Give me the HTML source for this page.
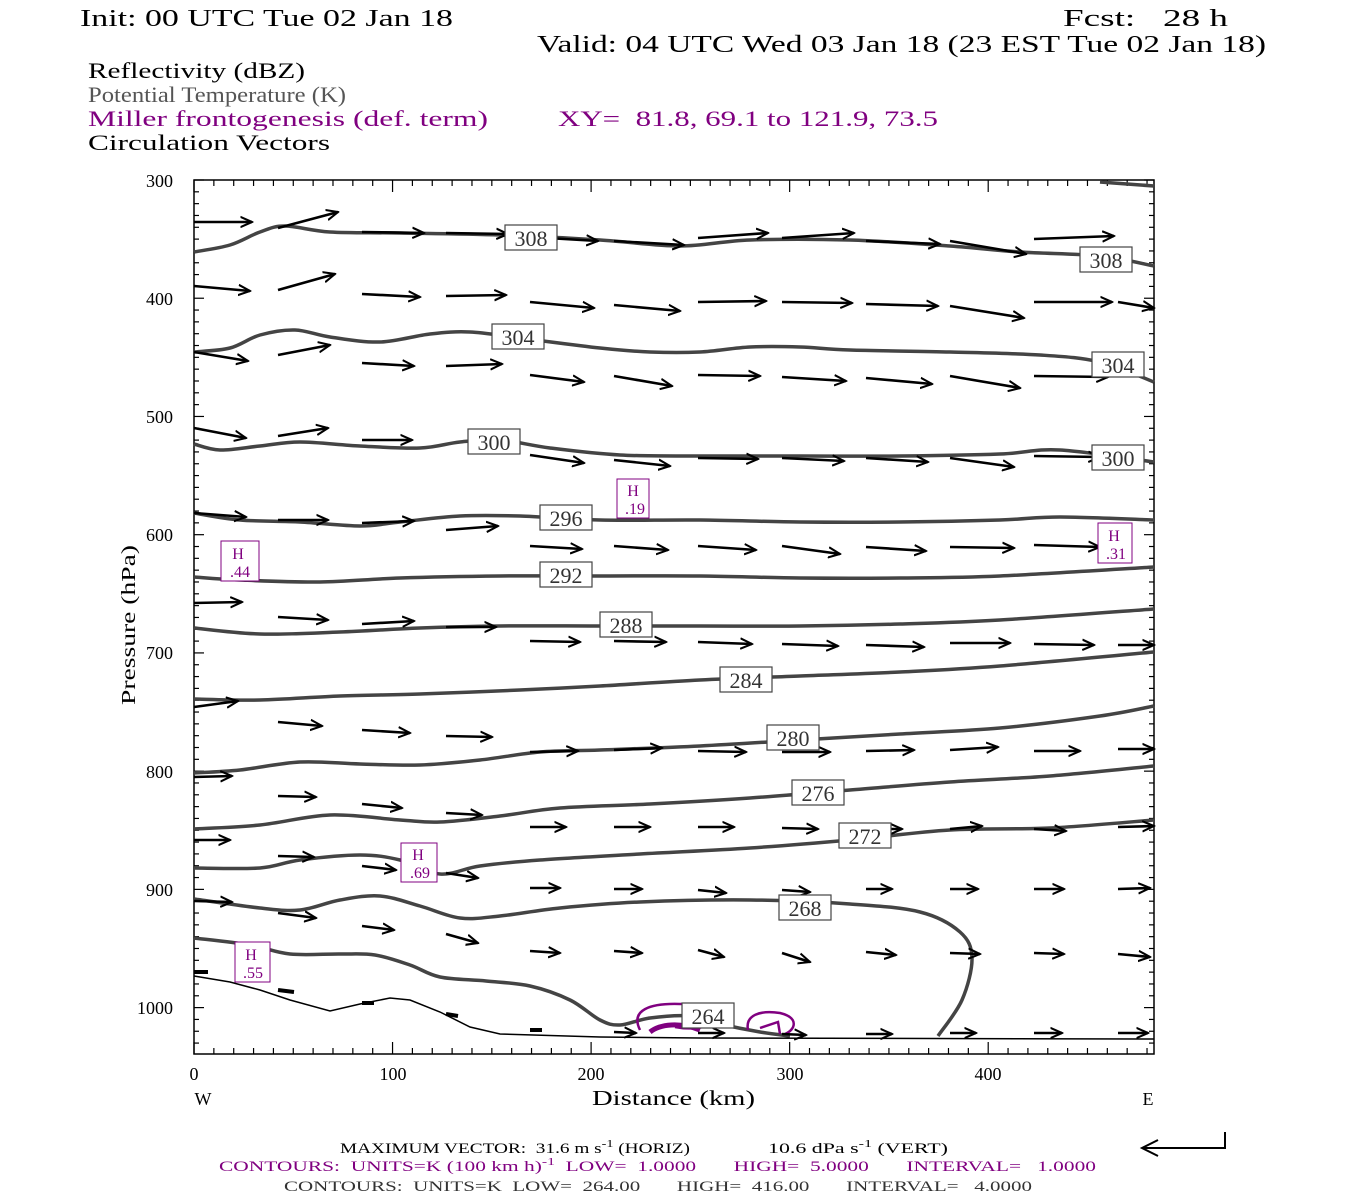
<!DOCTYPE html>
<html><head><meta charset="utf-8"><style>
html,body{margin:0;padding:0;background:#fff;width:1350px;height:1200px;overflow:hidden}
svg{display:block}
text{white-space:pre}
.s{font-family:"Liberation Serif",serif}
</style></head><body>
<svg id="g" width="1350" height="1200" viewBox="0 0 1350 1200" xmlns="http://www.w3.org/2000/svg" xml:space="preserve">
<defs>
<marker id="ah" viewBox="0 0 10 10" refX="9" refY="5" markerWidth="13" markerHeight="13" markerUnits="userSpaceOnUse" orient="auto">
<path d="M0,1 L9,5 L0,9" fill="none" stroke="#000" stroke-width="1.6"/>
</marker>
</defs>
<g class="s" font-size="24">
<text x="80" y="26" textLength="373" lengthAdjust="spacingAndGlyphs">Init: 00 UTC Tue 02 Jan 18</text>
<text x="1063" y="26" textLength="165" lengthAdjust="spacingAndGlyphs">Fcst:   28 h</text>
<text x="537" y="52" textLength="729" lengthAdjust="spacingAndGlyphs">Valid: 04 UTC Wed 03 Jan 18 (23 EST Tue 02 Jan 18)</text>
</g>
<g class="s" font-size="22">
<text x="88" y="78" textLength="217" lengthAdjust="spacingAndGlyphs">Reflectivity (dBZ)</text>
<text x="88" y="102" fill="#555" textLength="258" lengthAdjust="spacingAndGlyphs">Potential Temperature (K)</text>
<text x="88" y="126" fill="#800080" textLength="400" lengthAdjust="spacingAndGlyphs">Miller frontogenesis (def. term)</text>
<text x="558" y="126" fill="#800080" textLength="380" lengthAdjust="spacingAndGlyphs">XY=  81.8, 69.1 to 121.9, 73.5</text>
<text x="88" y="150" textLength="242" lengthAdjust="spacingAndGlyphs">Circulation Vectors</text>
</g>
<g class="s" font-size="18" text-anchor="end">
<text x="173" y="187">300</text><text x="173" y="305">400</text><text x="173" y="423">500</text>
<text x="173" y="541">600</text><text x="173" y="659">700</text><text x="173" y="778">800</text>
<text x="173" y="896">900</text><text x="173" y="1014">1000</text>
</g>
<text class="s" font-size="20" transform="translate(135,705) rotate(-90)" textLength="160" lengthAdjust="spacingAndGlyphs">Pressure (hPa)</text>
<g class="s" font-size="18" text-anchor="middle">
<text x="194" y="1080">0</text><text x="393" y="1080">100</text><text x="591" y="1080">200</text>
<text x="790" y="1080">300</text><text x="988" y="1080">400</text>
<text x="203" y="1105">W</text><text x="1148" y="1105">E</text>
</g>
<text class="s" font-size="21" x="592" y="1105" textLength="163" lengthAdjust="spacingAndGlyphs">Distance (km)</text>
<g class="s" font-size="15">
<text x="340" y="1153" textLength="350" lengthAdjust="spacingAndGlyphs">MAXIMUM VECTOR:  31.6 m s<tspan dy="-6" font-size="11">-1</tspan><tspan dy="6"> (HORIZ)</tspan></text>
<text x="768" y="1153" textLength="180" lengthAdjust="spacingAndGlyphs">10.6 dPa s<tspan dy="-6" font-size="11">-1</tspan><tspan dy="6"> (VERT)</tspan></text>
<text x="219" y="1171" fill="#800080" textLength="877" lengthAdjust="spacingAndGlyphs">CONTOURS:  UNITS=K (100 km h)<tspan dy="-6" font-size="11">-1</tspan><tspan dy="6">  LOW=  1.0000       HIGH=  5.0000       INTERVAL=   1.0000</tspan></text>
<text x="284" y="1191" fill="#333" textLength="748" lengthAdjust="spacingAndGlyphs">CONTOURS:  UNITS=K  LOW=  264.00       HIGH=  416.00       INTERVAL=   4.0000</text>
</g>
<path d="M1225,1132 L1225,1148 L1142,1148 M1158,1140 L1142,1148 L1158,1156" fill="none" stroke="#000" stroke-width="2"/>
<rect x="194" y="180" width="960" height="874" fill="none" stroke="#000" stroke-width="1.5"/>
<g id="ticks" stroke="#000" stroke-width="1.2"></g>
<g id="cont" fill="none" stroke="#444" stroke-width="3.5" stroke-linejoin="round"></g>
<g fill="none" stroke="#800080" stroke-width="2.5">
<path d="M640,1030 C630,1010 650,1003 680,1004 C700,1003 720,1006 715,1020 C712,1028 690,1030 675,1027"/>
<path d="M650,1032 C660,1024 680,1022 700,1030" stroke-width="5"/>
<path d="M748,1030 C745,1015 760,1010 780,1013 C800,1018 795,1030 785,1034 M760,1028 L778,1022 L780,1034"/>
</g>
<path d="M194,976 L230,982 L260,990 L290,1000 L330,1011 L360,1004 L390,998 L410,1000 L440,1012 L470,1027 L500,1034 L600,1037 L700,1038 L1154,1039" fill="none" stroke="#000" stroke-width="1.5"/>
<g id="arr" stroke="#000" stroke-width="2.6" fill="none"></g>
<g id="lab" class="s" font-size="22" text-anchor="middle"></g>
<g class="s" font-size="16" fill="#800080" text-anchor="middle">
<rect x="617" y="479" width="32" height="39" fill="#fff" stroke="#800080"/><text x="633" y="496">H</text><text x="635" y="514">.19</text>
<rect x="1098" y="523" width="34" height="40" fill="#fff" stroke="#800080"/><text x="1114" y="541">H</text><text x="1116" y="559">.31</text>
<rect x="221" y="541" width="38" height="40" fill="#fff" stroke="#800080"/><text x="238" y="559">H</text><text x="240" y="577">.44</text>
<rect x="401" y="843" width="36" height="39" fill="#fff" stroke="#800080"/><text x="418" y="860">H</text><text x="420" y="878">.69</text>
<rect x="235" y="942" width="35" height="40" fill="#fff" stroke="#800080"/><text x="251" y="960">H</text><text x="253" y="978">.55</text>
</g>
</svg>
<script>
var NS="http://www.w3.org/2000/svg";
function el(p,t,a){var e=document.createElementNS(NS,t);for(var k in a)e.setAttribute(k,a[k]);document.getElementById(p).appendChild(e);return e;}
for(var p=300;p<=1030;p+=10){var y=180+(p-300)*1.1823;var L=(p%100==0)?10:5;
el("ticks","line",{x1:194,y1:y,x2:194+L,y2:y});el("ticks","line",{x1:1154,y1:y,x2:1154-L,y2:y});}
for(var d=0;d<=483;d+=10){var x=194+d*1.9855;var L=(d%100==0)?12:6;
el("ticks","line",{x1:x,y1:1054,x2:x,y2:1054-L});el("ticks","line",{x1:x,y1:180,x2:x,y2:180+L});}
function sm(pts){var s="M"+pts[0][0]+","+pts[0][1];for(var i=1;i<pts.length;i++){var p0=pts[i-2]||pts[i-1],p1=pts[i-1],p2=pts[i],p3=pts[i+1]||p2;
s+=" C"+(p1[0]+(p2[0]-p0[0])/6)+","+(p1[1]+(p2[1]-p0[1])/6)+" "+(p2[0]-(p3[0]-p1[0])/6)+","+(p2[1]-(p3[1]-p1[1])/6)+" "+p2[0]+","+p2[1];}return s;}
var C=[
[[1100,182],[1154,186]],
[[194,252],[230,245],[260,232],[285,226],[330,232],[400,233],[500,235],[600,240],[680,246],[750,240],[850,240],[950,246],[1020,252],[1100,256],[1154,266]],
[[194,352],[230,348],[260,335],[295,330],[330,337],[380,342],[430,334],[470,332],[520,338],[600,348],[650,352],[700,352],[750,347],[800,347],[850,350],[950,352],[1040,355],[1100,362],[1154,382]],
[[194,444],[220,450],[260,446],[300,442],[360,446],[420,448],[460,442],[500,440],[550,448],[620,455],[700,456],[800,456],[900,456],[1000,454],[1060,450],[1154,462]],
[[194,513],[240,520],[300,522],[360,526],[400,522],[460,516],[520,516],[600,520],[700,520],[800,522],[900,522],[1000,520],[1060,517],[1154,520]],
[[194,577],[240,580],[320,582],[400,578],[500,576],[600,576],[700,576],[800,578],[900,578],[1000,576],[1154,567]],
[[194,628],[260,634],[340,632],[420,628],[500,626],[600,626],[700,626],[800,626],[900,624],[1000,620],[1154,609]],
[[194,699],[260,700],[340,696],[420,694],[520,690],[600,686],[700,680],[800,676],[900,672],[1000,666],[1154,652]],
[[194,773],[240,770],[300,762],[360,764],[420,765],[480,760],[540,752],[600,750],[700,746],[800,740],[900,734],[1000,728],[1100,716],[1154,706]],
[[194,829],[260,825],[330,815],[400,820],[440,822],[500,816],[560,808],[650,804],[750,798],[850,790],[950,782],[1050,776],[1154,766]],
[[194,868],[260,868],[300,860],[360,855],[400,860],[440,874],[480,866],[540,860],[640,854],[750,848],[850,840],[950,830],[1050,828],[1154,820]],
[[194,899],[260,908],[300,910],[340,900],[380,896],[420,906],[460,918],[500,916],[560,908],[640,902],[750,900],[850,904],[920,912],[960,932],[972,958],[962,1000],[938,1036]],
[[194,938],[250,945],[290,954],[340,954],[375,955],[410,965],[440,977],[486,981],[530,986],[570,1000],[600,1020],[620,1025],[650,1018],[690,1016],[720,1024],[760,1032],[790,1036]]
];
C.forEach(function(c){el("cont","path",{d:sm(c)});});
var A=[[194,222,252,222],[278,228,338,212],[362,232,424,233],[446,233,508,234],[530,237,598,241],[614,241,684,245],[698,238,768,233],[782,238,854,233],[866,241,940,244],[950,241,1026,254],[1034,239,1114,236],
[194,286,250,291],[278,290,335,274],[362,294,420,297],[446,296,506,295],[530,302,594,308],[614,305,680,311],[698,302,766,301],[782,302,852,303],[866,304,938,306],[950,306,1024,318],[1034,302,1112,302],[1118,302,1154,308],
[194,352,248,361],[278,355,330,345],[362,363,414,366],[446,366,502,364],[530,375,584,382],[614,376,672,386],[698,375,760,376],[782,377,846,381],[866,378,932,384],[950,376,1020,388],[1034,376,1108,377],
[194,428,246,438],[278,436,328,428],[362,440,412,440],
[530,455,584,463],[614,460,670,466],[698,458,758,459],[782,458,844,461],[866,458,928,462],[950,458,1014,467],[1034,456,1100,457],
[194,513,246,517],[278,520,328,520],[362,523,414,521],[446,530,498,526],
[530,546,582,549],[614,546,668,550],[698,546,756,550],[782,546,840,554],[866,547,926,551],[950,547,1014,548],[1034,545,1100,547],
[194,603,242,602],[278,617,328,620],[362,624,414,621],[446,627,496,627],
[530,641,580,642],[614,641,666,642],[698,642,752,644],[782,644,838,646],[866,645,924,647],[950,643,1010,643],[1034,644,1094,645],[1118,645,1154,645],
[194,707,238,701],[278,722,322,726],[362,730,410,733],[446,736,492,737],
[530,752,578,751],[614,750,662,748],[698,751,746,752],[782,752,830,752],[866,751,914,750],[950,750,998,747],[1034,751,1080,751],[1118,749,1154,749],
[194,777,232,776],[278,796,316,797],[362,804,402,808],[446,813,482,815],
[530,827,566,827],[614,827,650,827],[698,827,734,827],[782,828,818,829],[866,829,902,829],[950,829,982,826],[1034,829,1066,831],[1118,827,1154,826],
[194,840,230,840],[278,856,314,857],[362,866,396,870],[446,873,478,878],
[530,888,560,888],[614,889,642,889],[698,890,726,893],[782,890,810,892],[866,889,892,889],[950,889,978,889],[1034,889,1064,889],[1118,889,1150,888],
[194,901,232,902],[278,913,316,918],[362,926,394,930],[446,934,478,943],
[530,951,560,953],[614,951,642,953],[698,950,724,957],[782,953,810,962],[866,952,896,955],[950,953,980,954],[1034,953,1064,954],[1118,954,1150,957],
[194,972,208,972],[278,990,294,992],[362,1003,374,1003],[446,1014,458,1016],
[530,1030,542,1030],[614,1032,636,1033],[698,1033,724,1033],[782,1034,806,1035],[866,1034,892,1034],[950,1033,976,1033],[1034,1033,1062,1033],[1118,1033,1148,1033]];
A.forEach(function(a){var len=Math.hypot(a[2]-a[0],a[3]-a[1]);var m=len<20?"":"url(#ah)";
var at={x1:a[0],y1:a[1],x2:a[2],y2:a[3]};if(m)at["marker-end"]=m;else at["stroke-width"]=4;el("arr","line",at);});
var Lb=[[505,225,"308"],[1080,247,"308"],[492,324,"304"],[1092,352,"304"],[468,429,"300"],[1092,445,"300"],[540,505,"296"],[540,562,"292"],[600,612,"288"],[720,667,"284"],[767,725,"280"],[792,780,"276"],[839,823,"272"],[779,895,"268"],[682,1003,"264"]];
Lb.forEach(function(l){el("lab","rect",{x:l[0],y:l[1],width:52,height:25,fill:"#fff",stroke:"#444","stroke-width":1.2});
var t=el("lab","text",{x:l[0]+26,y:l[1]+21,fill:"#333"});t.textContent=l[2];});
</script>
</body></html>
